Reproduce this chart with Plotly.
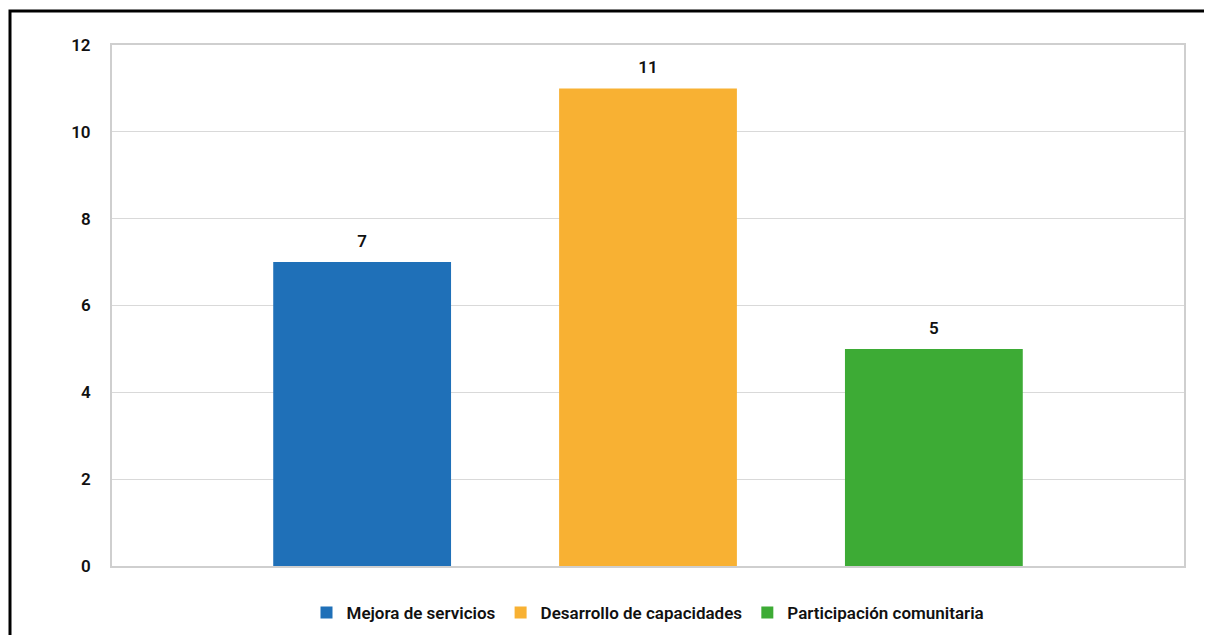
import plotly.graph_objects as go

series_names = ["Mejora de servicios", "Desarrollo de capacidades", "Participación comunitaria"]
series_values = [7, 11, 5]
series_colors = ["#1F70B8", "#F8B133", "#3DAB35"]
category = [""]
y_ticks = [0, 2, 4, 6, 8, 10, 12]

FONT = "Roboto, Liberation Sans Narrow, sans-serif"

fig = go.Figure()
for name, val, col in zip(series_names, series_values, series_colors):
    fig.add_trace(go.Bar(
        x=category, y=[val], name=name,
        marker=dict(color=col, line=dict(width=0)),
        text=[f"<span style='font-size:17px'>{val}</span><br> "], textposition="outside",
        textfont=dict(family=FONT, size=8, color="#111111", weight=600),
        cliponaxis=False,
    ))

fig.update_layout(
    width=1212, height=635,
    margin=dict(l=104, r=36, t=37, b=77),
    paper_bgcolor="white", plot_bgcolor="white",
    barmode="group", bargap=0.2, bargroupgap=0.378,
    font=dict(family=FONT, size=17, color="#111111"),
    showlegend=True,
    legend=dict(orientation="h", x=0.5, xanchor="center", y=-0.09, yanchor="middle",
                font=dict(family=FONT, size=17, color="#111111", weight=600),
                itemwidth=30, tracegroupgap=0, traceorder="normal"),
    xaxis=dict(showticklabels=False, showgrid=False, showline=True, mirror=True,
               linecolor="#cfcfcf", linewidth=2, ticks="", zeroline=False),
    yaxis=dict(range=[0, 12], tickvals=y_ticks, showgrid=True, gridcolor="#d9d9d9",
               gridwidth=1, showline=True, mirror=True, linecolor="#cfcfcf", linewidth=2,
               zeroline=False, ticks="", ticklabelstandoff=16,
               tickfont=dict(family=FONT, size=17, color="#111111", weight=600)),
    shapes=[dict(type="rect", xref="paper", yref="paper",
                 x0=(10 - 112) / 1072, x1=1.1, y0=-0.3, y1=(566 - 11) / 521,
                 line=dict(color="black", width=3), fillcolor="rgba(0,0,0,0)", layer="above")],
)

fig.write_html("out.html")
